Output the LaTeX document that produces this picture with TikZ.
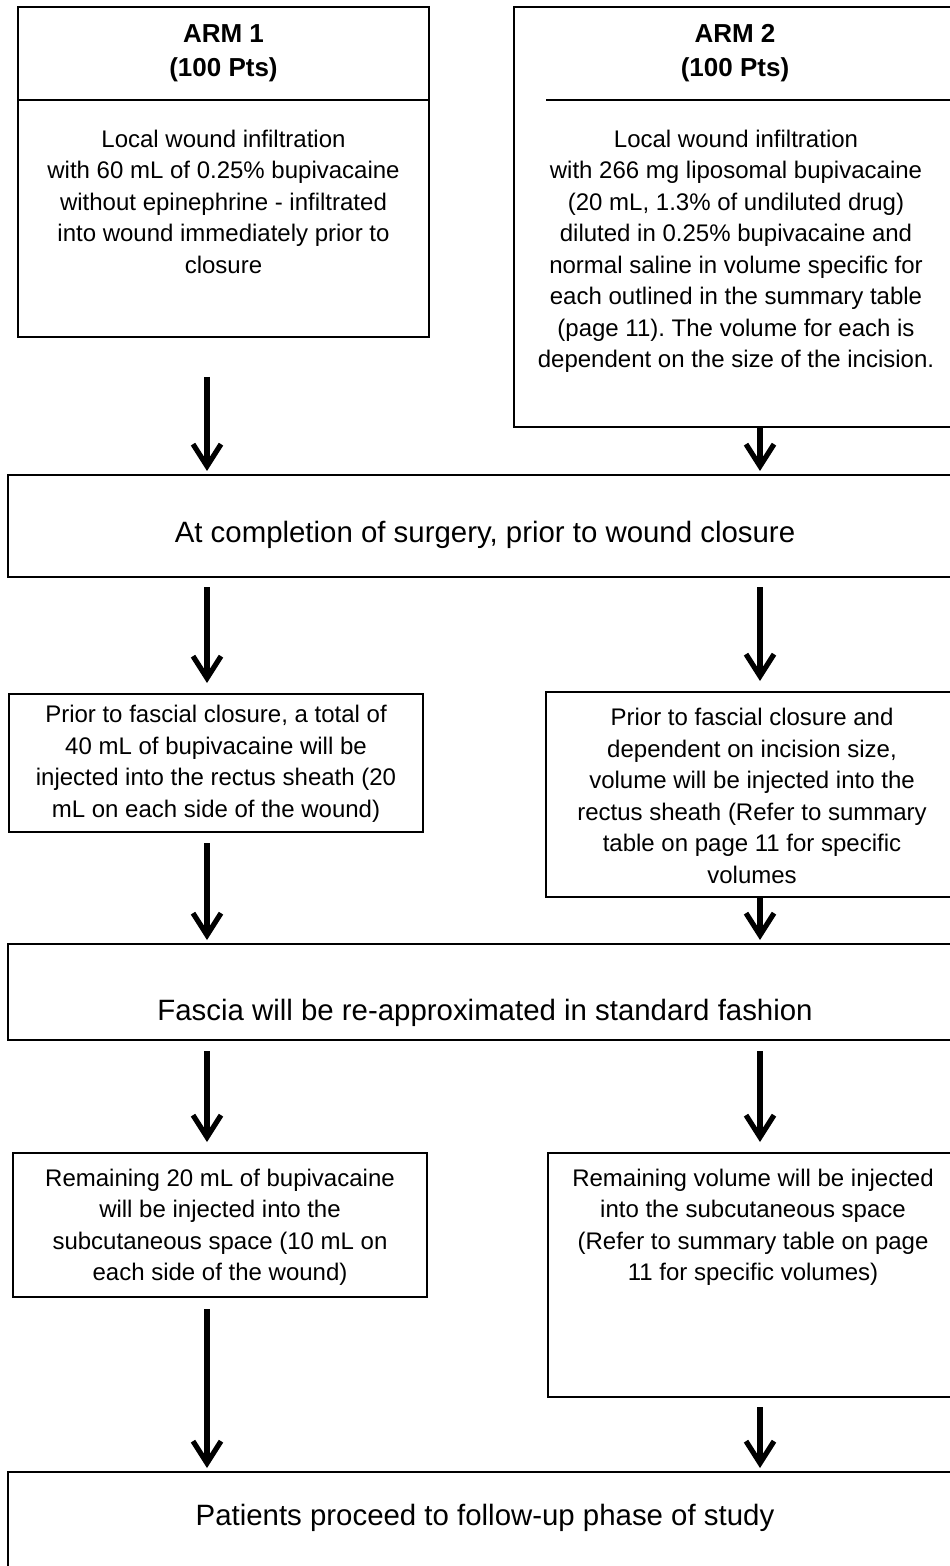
\documentclass[tikz,border=0pt]{standalone}
\usepackage{fontspec}
\setmainfont{Liberation Sans}
\usetikzlibrary{arrows.meta}
\frenchspacing

\tikzset{
  box/.style={draw, line width=1pt, inner sep=0pt},
  txt/.style={align=center, inner sep=0pt, font=\fontsize{12}{15.75}\selectfont},
  head/.style={align=center, inner sep=0pt, font=\bfseries\fontsize{13}{17}\selectfont},
  wide/.style={inner sep=0pt, font=\fontsize{14.7}{18}\selectfont},
  flow/.style={line width=2.6pt, -{Straight Barb[length=11pt,width=14pt]}, shorten >=1.5pt},
  gap/.style={shorten >=5pt}
}

\begin{document}
\begin{tikzpicture}[x=0.5pt, y=-0.5pt]
    \useasboundingbox (0,0) rectangle (949,1566);
    \fill[white] (0,0) rectangle (949,1566);

    % the two arms
    \node[box, head, minimum width=205.5pt, minimum height=46.5pt] (arm1h) at (223.5,53.5) {ARM 1\\(100 Pts)};
    \node[box, minimum width=205.5pt, minimum height=118.5pt] (arm1b) at (223.5,218.5) {};
    \node[txt, anchor=north] (arm1t) at (223.5,129.5) {Local wound infiltration\\with 60 mL of 0.25\% bupivacaine\\without epinephrine - infiltrated\\into wound immediately prior to\\closure};

    \node[box, minimum width=222pt, minimum height=210pt] (arm2) at (736,217) {};
    \node[head] (arm2h) at (735,53.5) {ARM 2\\(100 Pts)};
    \coordinate (sep) at (546,100);
    \draw[line width=1pt] (sep) -- (sep -| arm2.east);
    \node[txt, anchor=north] (arm2t) at (736,129.5) {Local wound infiltration\\with 266 mg liposomal bupivacaine\\(20 mL, 1.3\% of undiluted drug)\\diluted in 0.25\% bupivacaine and\\normal saline in volume specific for\\each outlined in the summary table\\(page 11). The volume for each is\\dependent on the size of the incision.};

    % shared steps
    \node[box, minimum width=477pt, minimum height=51pt] (done) at (485,526) {};
    \node[wide, anchor=base] (donet) at (485,542) {At completion of surgery, prior to wound closure};

    \node[box, minimum width=207pt, minimum height=69pt] (ldose) at (216,763) {};
    \node[txt, anchor=north] (ldoset) at (216,705) {Prior to fascial closure, a total of\\40 mL of bupivacaine will be\\injected into the rectus sheath (20\\mL on each side of the wound)};
    \node[box, minimum width=206pt, minimum height=102.5pt] (rdose) at (752,794.5) {};
    \node[txt, anchor=north] (rdoset) at (752,708) {Prior to fascial closure and\\dependent on incision size,\\volume will be injected into the\\rectus sheath (Refer to summary\\table on page 11 for specific\\volumes};

    \node[box, minimum width=477pt, minimum height=48pt] (fascia) at (485,992) {};
    \node[wide, anchor=base] (fasciat) at (485,1020) {Fascia will be re-approximated in standard fashion};

    \node[box, minimum width=207pt, minimum height=72pt] (lrest) at (220,1225) {};
    \node[txt, anchor=north] (lrestt) at (220,1168.5) {Remaining 20 mL of bupivacaine\\will be injected into the\\subcutaneous space (10 mL on\\each side of the wound)};
    \node[box, minimum width=205pt, minimum height=122pt] (rrest) at (753,1275) {};
    \node[txt, anchor=north] (rrestt) at (753,1168.5) {Remaining volume will be injected\\into the subcutaneous space\\(Refer to summary table on page\\11 for specific volumes)};

    \node[box, minimum width=477pt, minimum height=63.5pt] (follow) at (485,1535.5) {};
    \node[wide, anchor=base] (followt) at (485,1525) {Patients proceed to follow-up phase of study};

    % arrows
    \coordinate (rx) at (760,0);
    \coordinate (l1) at (207,377);
    \coordinate (l2) at (207,587);
    \coordinate (r2) at (760,587);
    \coordinate (l3) at (207,843);
    \coordinate (l4) at (207,1051);
    \coordinate (r4) at (760,1051);
    \coordinate (l5) at (207,1309);
    \coordinate (r5) at (760,1407);

    \draw[flow] (l1) -- (l1 |- done.north);
    \draw[flow] (rx |- arm2.south) -- (rx |- done.north);
    \draw[flow, gap] (l2) -- (l2 |- ldose.north);
    \draw[flow, gap] (r2) -- (r2 |- rdose.north);
    \draw[flow] (l3) -- (l3 |- fascia.north);
    \draw[flow] (rx |- rdose.south) -- (rx |- fascia.north);
    \draw[flow, gap] (l4) -- (l4 |- lrest.north);
    \draw[flow, gap] (r4) -- (r4 |- rrest.north);
    \draw[flow] (l5) -- (l5 |- follow.north);
    \draw[flow] (r5) -- (r5 |- follow.north);
\end{tikzpicture}
\end{document}
